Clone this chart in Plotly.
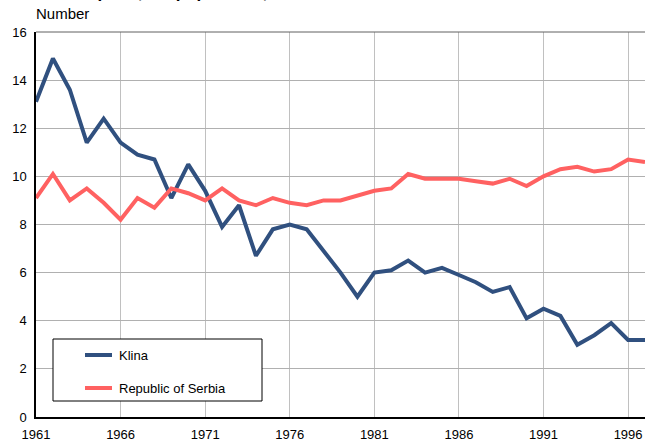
import plotly.graph_objects as go

years = list(range(1961, 1998))
klina = [13.1, 14.9, 13.6, 11.4, 12.4, 11.4, 10.9, 10.7, 9.1, 10.5,
         9.4, 7.9, 8.8, 6.7, 7.8, 8.0, 7.8, 6.9, 6.0, 5.0,
         6.0, 6.1, 6.5, 6.0, 6.2, 5.9, 5.6, 5.2, 5.4, 4.1,
         4.5, 4.2, 3.0, 3.4, 3.9, 3.2, 3.2]
serbia = [9.1, 10.1, 9.0, 9.5, 8.9, 8.2, 9.1, 8.7, 9.5, 9.3,
          9.0, 9.5, 9.0, 8.8, 9.1, 8.9, 8.8, 9.0, 9.0, 9.2,
          9.4, 9.5, 10.1, 9.9, 9.9, 9.9, 9.8, 9.7, 9.9, 9.6,
          10.0, 10.3, 10.4, 10.2, 10.3, 10.7, 10.6]
x_ticks = [1961, 1966, 1971, 1976, 1981, 1986, 1991, 1996]
y_ticks = [0, 2, 4, 6, 8, 10, 12, 14, 16]
series_names = ["Klina", "Republic of Serbia"]
colors = ["#30507f", "#ff6161"]

W, H = 645, 441
L, T, B, R = 36, 32, 24, 0
pw, ph = W - L - R, H - T - B

def px(x):
    return (x - L) / pw

def py(y):
    return (H - B - y) / ph

fig = go.Figure()
for name, vals, c in zip(series_names, [klina, serbia], colors):
    fig.add_trace(go.Scatter(x=years, y=vals, mode="lines", name=name,
                             line=dict(color=c, width=4), showlegend=False))

font = "Arial, Liberation Sans, sans-serif"
fig.update_layout(
    width=W, height=H,
    margin=dict(l=L, r=R, t=T, b=B),
    plot_bgcolor="white", paper_bgcolor="white",
    font=dict(family=font, size=13, color="black"),
    xaxis=dict(range=[1961, 1997], tickvals=x_ticks, showgrid=True,
               gridcolor="#c0c0c0", gridwidth=1, showline=True,
               linecolor="black", linewidth=1.5, ticks="", zeroline=False,
               ticklabelstandoff=5, tickfont=dict(size=13)),
    yaxis=dict(range=[0, 16], tickvals=y_ticks, showgrid=True,
               gridcolor="#b0b0b0", gridwidth=1, showline=True,
               linecolor="black", linewidth=1.5, ticks="", zeroline=False,
               ticklabelstandoff=5, tickfont=dict(size=13)),
)

shapes = [
    dict(type="line", xref="paper", yref="paper", x0=0, x1=1, y0=1, y1=1,
         line=dict(color="#606060", width=1)),
    dict(type="rect", xref="paper", yref="paper", x0=px(53), x1=px(262),
         y0=py(401), y1=py(339), line=dict(color="black", width=1),
         fillcolor="white", layer="above"),
]
ann = []
for name, c, yy in zip(series_names, colors, [355, 388]):
    shapes.append(dict(type="line", xref="paper", yref="paper", x0=px(85),
                       x1=px(112), y0=py(yy), y1=py(yy),
                       line=dict(color=c, width=4), layer="above"))
    ann.append(dict(text=name, xref="paper", yref="paper", x=px(117),
                    y=py(yy), xanchor="left", yanchor="middle",
                    showarrow=False, font=dict(size=13)))

ann.append(dict(text="<b>Deaths per 1,000 population, 1961 - 1997</b>",
                xref="paper", yref="paper", x=px(34), y=py(4),
                xanchor="left", yanchor="bottom", showarrow=False,
                font=dict(size=17)))
ann.append(dict(text="Number", xref="paper", yref="paper", x=px(34),
                y=py(14), xanchor="left", yanchor="middle",
                showarrow=False, font=dict(size=15)))
fig.update_layout(shapes=shapes, annotations=ann)

fig.write_html("out.html", config={"displayModeBar": False},
               post_script="document.body.style.margin='0';"
                           "document.body.style.overflow='hidden';")
